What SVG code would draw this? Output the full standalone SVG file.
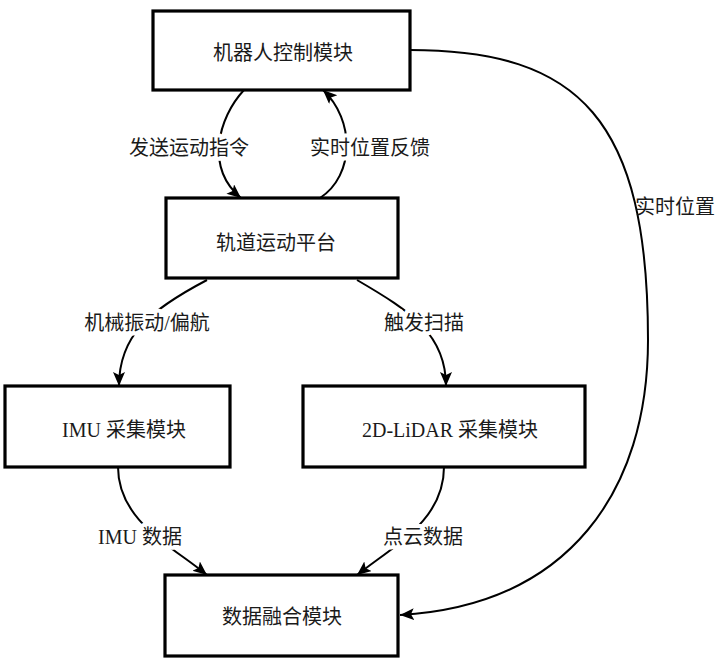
<svg xmlns="http://www.w3.org/2000/svg" width="720" height="663" viewBox="0 0 720 663">
<defs>
<marker id="arr" markerUnits="userSpaceOnUse" markerWidth="16" markerHeight="14" refX="14" refY="6" orient="auto">
<path d="M0,0 L14,6 L0,12 L3,6 z" fill="#000"/>
</marker>
<style>
.box{fill:#fff;stroke:#000;stroke-width:3.2}
.t{font-family:"Liberation Serif","Noto Sans CJK SC",serif;font-size:20px;fill:#1a1a1a;text-anchor:middle}
.c{fill:none;stroke:#000;stroke-width:2;marker-end:url(#arr)}
.lbl{font-family:"Liberation Serif","Noto Sans CJK SC",serif;font-size:20px;fill:#1a1a1a;text-anchor:middle}
.halo{stroke:#fff;stroke-width:8;paint-order:stroke;stroke-linejoin:round}
</style>
</defs>
<rect width="720" height="663" fill="#fff"/>
<g id="connectors">
<path class="c" d="M244,90 C218,118 205,168 241,198"/>
<path class="c" d="M320,198 C355,175 355,120 323,90"/>
<path class="c" d="M410,50 C580,50 648,120 648,340 C648,490 570,605 400,615"/>
<path class="c" d="M207,280 C150,310 119,335 119,386"/>
<path class="c" d="M357,280 C412,312 446,335 446,386"/>
<path class="c" d="M118,467 C118,520 170,545 207,575"/>
<path class="c" d="M444,467 C444,520 395,545 357,575"/>
<text class="lbl halo" x="189" y="155">发送运动指令</text>
<text class="lbl halo" x="370" y="155">实时位置反馈</text>
<text class="lbl" x="635" y="214" style="text-anchor:start">实时位置</text>
<text class="lbl halo" x="147" y="330">机械振动/偏航</text>
<text class="lbl halo" x="424" y="330">触发扫描</text>
<text class="lbl halo" x="140" y="544">IMU 数据</text>
<text class="lbl halo" x="423" y="544">点云数据</text>
</g>
<g id="robot-control">
<rect class="box" x="153" y="11" width="257" height="79"/>
<text class="t" x="283" y="60">机器人控制模块</text>
</g>
<g id="track-platform">
<rect class="box" x="166" y="198" width="232" height="80"/>
<text class="t" x="276" y="250">轨道运动平台</text>
</g>
<g id="imu">
<rect class="box" x="5" y="386" width="225" height="81"/>
<text class="t" x="124" y="437">IMU 采集模块</text>
</g>
<g id="lidar">
<rect class="box" x="303" y="386" width="282" height="81"/>
<text class="t" x="450" y="437">2D-LiDAR 采集模块</text>
</g>
<g id="fusion">
<rect class="box" x="165" y="575" width="233" height="81"/>
<text class="t" x="282" y="624">数据融合模块</text>
</g>
</svg>
